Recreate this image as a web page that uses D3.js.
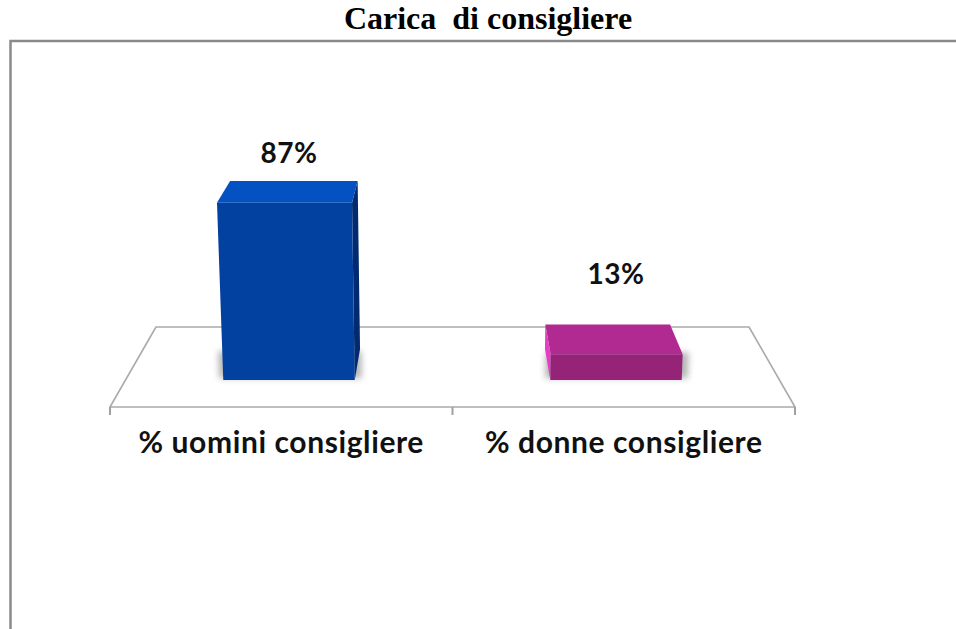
<!DOCTYPE html>
<html>
<head>
<meta charset="utf-8">
<script src="https://cdn.jsdelivr.net/npm/d3@7"></script>
<style>
  html, body { margin: 0; padding: 0; background: #fff; }
  svg { display: block; }
</style>
</head>
<body>
<svg id="chart" width="956" height="629"></svg>
<script>
// ---- data ----
const title = "Carica  di consigliere";
const categories = ["% uomini consigliere", "% donne consigliere"];
const values = [87, 13];
const valueLabels = ["87%", "13%"];

// ---- face colours per bar: front, top, side ----
const barColors = [
  { front: "#0341a1", top: "#0452c2", side: "#032a6e" },
  { front: "#952478", top: "#b12a92", side: "#e63cc6" }
];

const svg = d3.select("#chart");
const W = 956, H = 629;

// frame around the chart area
svg.append("rect")
  .attr("x", 10.5).attr("y", 41)
  .attr("width", W + 20).attr("height", H + 20)
  .attr("fill", "#fff")
  .attr("stroke", "#8a8a8a")
  .attr("stroke-width", 2.5);

svg.append("text")
  .attr("x", 488).attr("y", 29)
  .attr("text-anchor", "middle")
  .attr("font-family", "'Liberation Serif', 'Times New Roman', serif")
  .attr("font-weight", "bold")
  .attr("font-size", 32)
  .attr("fill", "#000")
  .style("white-space", "pre")
  .text(title);

// ---- simple perspective camera ----
// world: X centred, Y up (px), Z floor depth 0 (front) .. 1 (back)
const cam = { cx: 452.5, e: 407, a: -0.0001464, b: 0.155, h: -29.3 };
function project(X, Y, Z) {
  const w = 1 + cam.a * Y + cam.b * Z;
  return [cam.cx + X / w, (cam.e - Y + cam.h * Z) / w];
}

const floorHalf = 342.5;
const zFront = 0.306, zBack = 0.694;

const x = d3.scaleBand()
  .domain(categories)
  .range([-floorHalf, floorHalf])
  .paddingInner(0.598)
  .paddingOuter(0.299);

const y = d3.scaleLinear().domain([0, 100]).range([0, 219.8]);

const poly = pts => "M" + pts.map(p => p.join(",")).join("L") + "Z";

const defs = svg.append("defs");
defs.append("filter").attr("id", "soft")
  .attr("x", "-50%").attr("y", "-50%").attr("width", "200%").attr("height", "200%")
  .append("feGaussianBlur").attr("stdDeviation", 3);

// ---- floor ----
const floorPts = [
  project(-floorHalf, 0, 0), project(floorHalf, 0, 0),
  project(floorHalf, 0, 1), project(-floorHalf, 0, 1)
];
svg.append("path")
  .attr("d", poly(floorPts))
  .attr("fill", "#fff")
  .attr("stroke", "#ababab")
  .attr("stroke-width", 1.6)
  .attr("stroke-linejoin", "round");

// category tick marks on the front edge
const tickX = [-floorHalf, 0, floorHalf];
svg.selectAll("line.tick").data(tickX).join("line")
  .attr("class", "tick")
  .attr("x1", d => project(d, 0, 0)[0])
  .attr("x2", d => project(d, 0, 0)[0])
  .attr("y1", d => project(d, 0, 0)[1])
  .attr("y2", d => project(d, 0, 0)[1] + 8)
  .attr("stroke", "#a0a0a0")
  .attr("stroke-width", 2);

// ---- bars ----
const bars = categories.map((c, i) => ({
  cat: c, value: values[i], label: valueLabels[i], col: barColors[i],
  x0: x(c), x1: x(c) + x.bandwidth(), hgt: y(values[i])
}));

const g = svg.append("g");
bars.forEach(d => {
  const sh = Math.min(d.hgt, 30);
  // soft contact shadow
  g.append("path")
    .attr("d", poly([
      project(d.x0 - 5, 0, zFront + 0.02), project(d.x1 + 7, 0, zFront + 0.02),
      project(d.x1 + 7, sh, zFront + 0.02), project(d.x0 - 5, sh, zFront + 0.02)
    ]))
    .attr("fill", "#777")
    .attr("opacity", 0.55)
    .attr("filter", "url(#soft)");

  const fx = (d.x0 + d.x1) / 2 < 0 ? d.x1 : d.x0;   // side facing the centre
  g.append("path")
    .attr("d", poly([
      project(fx, 0, zFront), project(fx, 0, zBack),
      project(fx, d.hgt, zBack), project(fx, d.hgt, zFront)
    ]))
    .attr("fill", d.col.side);

  g.append("path")
    .attr("d", poly([
      project(d.x0, 0, zFront), project(d.x1, 0, zFront),
      project(d.x1, d.hgt, zFront), project(d.x0, d.hgt, zFront)
    ]))
    .attr("fill", d.col.front);

  g.append("path")
    .attr("d", poly([
      project(d.x0, d.hgt, zFront), project(d.x1, d.hgt, zFront),
      project(d.x1, d.hgt, zBack), project(d.x0, d.hgt, zBack)
    ]))
    .attr("fill", d.col.top);
});

// value labels
const labelLift = -38.2, labelDepth = 1.98;
svg.selectAll("text.val").data(bars).join("text")
  .attr("class", "val")
  .attr("x", d => project((d.x0 + d.x1) / 2, 0, zFront)[0])
  .attr("y", d => project(0, d.hgt + labelLift, labelDepth)[1])
  .attr("dy", "0.36em")
  .attr("text-anchor", "middle")
  .attr("font-family", "Lato, 'Open Sans', sans-serif")
  .attr("font-weight", "bold")
  .attr("font-size", 28)
  .attr("letter-spacing", 0.6)
  .attr("fill", "#111")
  .text(d => d.label);

// category labels under the front edge
svg.selectAll("text.cat").data(bars).join("text")
  .attr("class", "cat")
  .attr("x", d => project((d.x0 + d.x1) / 2, 0, 0)[0])
  .attr("y", project(0, 0, 0)[1] + 46)
  .attr("text-anchor", "middle")
  .attr("font-family", "Lato, 'Open Sans', sans-serif")
  .attr("font-weight", "bold")
  .attr("font-size", 30)
  .attr("letter-spacing", 0.6)
  .attr("fill", "#111")
  .text(d => d.cat);
</script>
</body>
</html>
